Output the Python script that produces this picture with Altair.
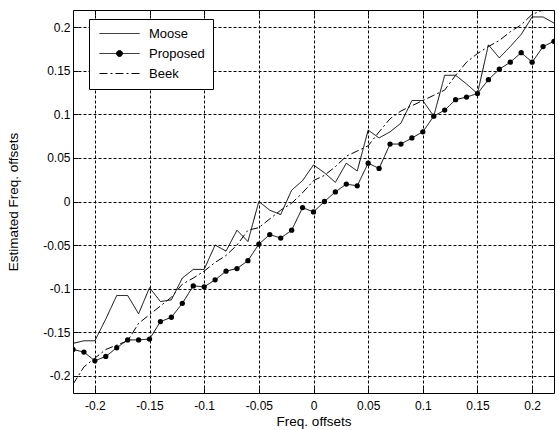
import altair as alt
import pandas as pd

x_vals = [-0.22, -0.21, -0.20, -0.19, -0.18, -0.17, -0.16, -0.15, -0.14, -0.13, -0.12,
          -0.11, -0.10, -0.09, -0.08, -0.07, -0.06, -0.05, -0.04, -0.03, -0.02, -0.01,
          0.00, 0.01, 0.02, 0.03, 0.04, 0.05, 0.06, 0.07, 0.08, 0.09, 0.10, 0.11,
          0.12, 0.13, 0.14, 0.15, 0.16, 0.17, 0.18, 0.19, 0.20, 0.21, 0.22]

moose = [-0.163, -0.160, -0.160, -0.135, -0.108, -0.108, -0.129, -0.099, -0.115, -0.113, -0.088,
         -0.078, -0.078, -0.050, -0.057, -0.033, -0.046, 0.000, -0.010, -0.015, 0.013, 0.024,
         0.042, 0.033, 0.022, 0.044, 0.035, 0.082, 0.073, 0.080, 0.090, 0.116, 0.116, 0.098,
         0.145, 0.145, 0.135, 0.124, 0.180, 0.165, 0.178, 0.192, 0.212, 0.212, 0.205]

proposed = [-0.170, -0.173, -0.183, -0.178, -0.168, -0.159, -0.159, -0.158, -0.138, -0.133, -0.117,
            -0.097, -0.098, -0.090, -0.080, -0.077, -0.068, -0.049, -0.038, -0.042, -0.033, -0.007,
            -0.012, 0.000, 0.011, 0.020, 0.018, 0.044, 0.038, 0.066, 0.066, 0.073, 0.080, 0.098,
            0.105, 0.117, 0.120, 0.124, 0.140, 0.152, 0.160, 0.171, 0.160, 0.178, 0.184]

beek = [-0.210, -0.190, -0.180, -0.170, -0.165, -0.160, -0.140, -0.130, -0.120, -0.110, -0.095,
        -0.088, -0.080, -0.070, -0.062, -0.050, -0.033, -0.030, -0.020, -0.010, -0.002, 0.010,
        0.024, 0.030, 0.040, 0.052, 0.058, 0.064, 0.080, 0.095, 0.104, 0.110, 0.116, 0.122,
        0.128, 0.145, 0.160, 0.170, 0.178, 0.185, 0.195, 0.203, 0.215, 0.220, 0.222]

series_names = ["Moose", "Proposed", "Beek"]
tick_vals = [-0.2, -0.15, -0.1, -0.05, 0, 0.05, 0.1, 0.15, 0.2]

rows = []
for name, vals in zip(series_names, [moose, proposed, beek]):
    for xv, yv in zip(x_vals, vals):
        rows.append({"x": xv, "y": yv, "series": name})
df = pd.DataFrame(rows)
df_prop = df[df["series"] == "Proposed"]

W, H = 481, 383
FONT = "Liberation Sans"
xdom = [-0.22, 0.22]
ydom = [-0.22, 0.22]

main_x_axis = alt.Axis(values=tick_vals, labelExpr="'' + datum.value", tickSize=0, domain=False,
                       grid=True, gridColor="black", gridDash=[3, 2], gridWidth=1, gridOpacity=1,
                       labelFont=FONT, labelFontSize=12, labelColor="black", labelPadding=7,
                       title="Freq. offsets", titleFont=FONT, titleFontSize=13.5,
                       titleFontWeight="normal", titleColor="black", titlePadding=3)
main_y_axis = alt.Axis(values=tick_vals, labelExpr="'' + datum.value", tickSize=0, domain=False,
                       grid=True, gridColor="black", gridDash=[3, 2], gridWidth=1, gridOpacity=1,
                       labelFont=FONT, labelFontSize=12, labelColor="black", labelPadding=3,
                       title="Estimated Freq. offsets", titleFont=FONT, titleFontSize=13.5,
                       titleFontWeight="normal", titleColor="black", titlePadding=22)


def tick_axis(orient, offset):
    return alt.Axis(values=tick_vals, orient=orient, offset=offset, labels=False, domain=False,
                    grid=False, ticks=True, tickSize=5, tickColor="black", tickWidth=1, title=None)


legend = alt.Legend(
    title=None, orient="none", legendX=16, legendY=9,
    fillColor="white", strokeColor="black", padding=8,
    symbolType=alt.ExprRef(expr="datum.value === 'Proposed' ? 'M-4,0H4M0.6,0A0.6,0.6,0,1,1,-0.6,0A0.6,0.6,0,1,1,0.6,0Z' : 'M-4,0H4'"),
    symbolFillColor=alt.ExprRef(expr="datum.value === 'Proposed' ? 'black' : 'transparent'"),
    symbolSize=100, symbolStrokeWidth=1, symbolStrokeColor="black", symbolOffset=16,
    labelFont=FONT, labelFontSize=13, labelColor="black", labelOffset=23, rowPadding=6,
)

lines = alt.Chart(df).mark_line(color="black", strokeWidth=1, clip=True).encode(
    x=alt.X("x:Q", scale=alt.Scale(domain=xdom, nice=False, zero=False), axis=main_x_axis),
    y=alt.Y("y:Q", scale=alt.Scale(domain=ydom, nice=False, zero=False), axis=main_y_axis),
    strokeDash=alt.StrokeDash("series:N", scale=alt.Scale(domain=series_names,
                              range=[[1, 0], [1, 0], [8, 3, 2, 3]]), legend=legend),
    detail="series:N",
)

points = alt.Chart(df_prop).mark_point(filled=True, color="black", size=28, opacity=1, clip=True).encode(
    x=alt.X("x:Q", axis=tick_axis("top", -H)),
    y=alt.Y("y:Q", axis=tick_axis("right", -W)),
)

ghost = alt.Chart(df_prop).mark_point(opacity=0, clip=True).encode(
    x=alt.X("x:Q", axis=tick_axis("bottom", -H)),
    y=alt.Y("y:Q", axis=tick_axis("left", -W)),
)

chart = alt.layer(lines, points, ghost).resolve_axis(x="independent", y="independent").properties(
    width=W, height=H,
    autosize=alt.AutoSizeParams(type="none"),
    padding={"left": 73, "top": 10, "right": 4, "bottom": 37},
    background="white",
).configure_view(stroke="black", strokeWidth=1)

chart.save("out.html", embed_options={"renderer": "svg", "actions": False})
